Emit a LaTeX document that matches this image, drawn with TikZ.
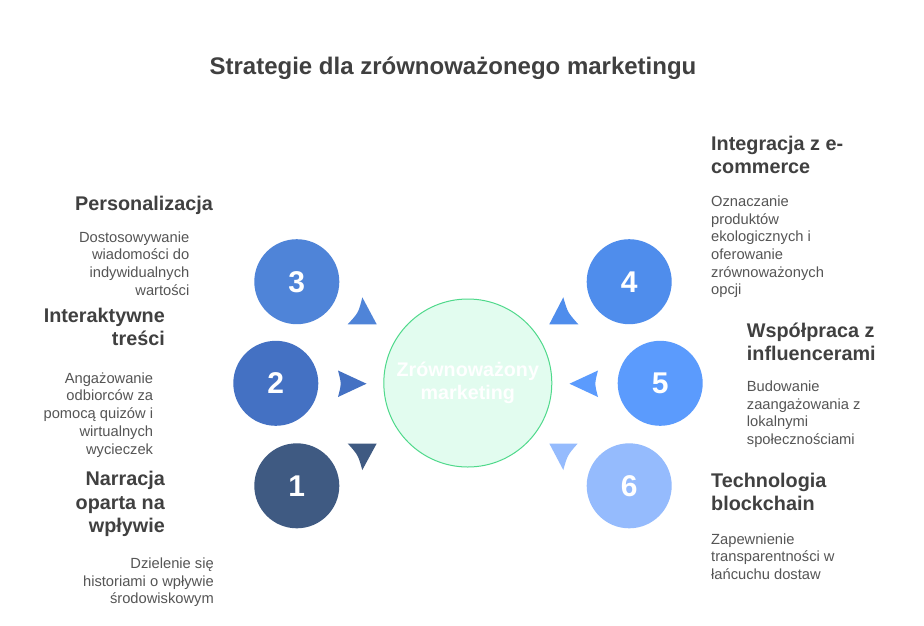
\documentclass[tikz,border=0pt]{standalone}
\usepackage{fontspec}
\setmainfont{Liberation Sans}
\definecolor{cOne}{HTML}{3F5A82}
\definecolor{cTwo}{HTML}{4471C3}
\definecolor{cThree}{HTML}{4F84D8}
\definecolor{cFour}{HTML}{4F8DEC}
\definecolor{cFive}{HTML}{5B9BFD}
\definecolor{cSix}{HTML}{95BBFD}
\definecolor{midfill}{HTML}{E2FCEF}
\definecolor{midline}{HTML}{4FD98B}
\definecolor{headtxt}{HTML}{404040}
\definecolor{bodytxt}{HTML}{555555}
\begin{document}
\begin{tikzpicture}[x=1pt,y=-1pt,
  numcircle/.style={circle, minimum size=85pt, inner sep=0pt, text=white,
    font=\fontsize{30}{35}\selectfont\bfseries},
  headtext/.style={inner sep=0pt, text=headtxt,
    font=\fontsize{19.8}{23.6}\selectfont\bfseries},
  bodytext/.style={inner sep=0pt, text=bodytxt,
    font=\fontsize{14.7}{17.7}\selectfont},
  tri/.style={draw=none}]
\useasboundingbox[fill=white] (0,0) rectangle (924,625);

% title
\node[anchor=base, inner sep=0pt, text=headtxt,
  font=\fontsize{24}{29}\selectfont\bfseries] (title) at (453,74)
  {Strategie dla zrównoważonego marketingu};

% central circle
\node[circle, minimum size=168pt, inner sep=0pt, fill=midfill, draw=midline,
  line width=1pt, text=white, align=center,
  font=\fontsize{19.7}{23.6}\selectfont\bfseries] (center) at (467.8,383)
  {Zrównoważony\\marketing};

% triangles
\fill[cThree] (347.7,324.3) .. controls (358.5,312.7) .. (362.3,297.3) -- (376.7,324.3) -- cycle;
\fill[cFour] (549.3,324.3) -- (563.3,297.3) .. controls (567.7,312.5) .. (578.3,324.3) -- cycle;
\fill[cOne] (347.7,443.5) .. controls (358.1,455) .. (362.3,470) -- (376.7,443.5) -- cycle;
\fill[cSix] (549.3,443.5) -- (563.3,470) .. controls (567.4,455.3) .. (577.7,443.5) -- cycle;
\fill[cTwo] (338,370.5) .. controls (341.5,383.7) .. (338,397) -- (366.5,383.7) -- cycle;
\fill[cFive] (598,370.5) .. controls (594.5,383.7) .. (598,397) -- (569.5,383.7) -- cycle;

% number circles
\node[numcircle, fill=cThree] (n3) at (296.8,281.7) {3};
\node[numcircle, fill=cTwo]   (n2) at (275.8,383.3) {2};
\node[numcircle, fill=cOne]   (n1) at (296.8,485.8) {1};
\node[numcircle, fill=cFour]  (n4) at (629.2,281.7) {4};
\node[numcircle, fill=cFive]  (n5) at (660.2,383.3) {5};
\node[numcircle, fill=cSix]   (n6) at (629.2,485.8) {6};

% left texts
\node[headtext, anchor=north east, align=right] (h3) at (213,193.5)
  {\strut Personalizacja};
\node[bodytext, anchor=north east, align=right] (b3) at (189.5,229.6)
  {\strut Dostosowywanie\\wiadomości do\\indywidualnych\\wartości};
\node[headtext, anchor=north east, align=right] (h2) at (165,305.5)
  {\strut Interaktywne\\treści};
\node[bodytext, anchor=north east, align=right] (b2) at (153.3,370.6)
  {\strut Angażowanie\\odbiorców za\\pomocą quizów i\\wirtualnych\\wycieczek};
\node[headtext, anchor=north east, align=right] (h1) at (165,469)
  {\strut Narracja\\oparta na\\wpływie};
\node[bodytext, anchor=north east, align=right] (b1) at (214,555.8)
  {\strut Dzielenie się\\historiami o wpływie\\środowiskowym};

% right texts
\node[headtext, anchor=north west, align=left] (h4) at (711,133.5)
  {\strut Integracja z e-\\commerce};
\node[bodytext, anchor=north west, align=left] (b4) at (711,193.8)
  {\strut Oznaczanie\\produktów\\ekologicznych i\\oferowanie\\zrównoważonych\\opcji};
\node[headtext, anchor=north west, align=left] (h5) at (746.7,320.5)
  {\strut Współpraca z\\influencerami};
\node[bodytext, anchor=north west, align=left] (b5) at (746.7,378.8)
  {\strut Budowanie\\zaangażowania z\\lokalnymi\\społecznościami};
\node[headtext, anchor=north west, align=left] (h6) at (711,470.5)
  {\strut Technologia\\blockchain};
\node[bodytext, anchor=north west, align=left] (b6) at (711,531.5)
  {\strut Zapewnienie\\transparentności w\\łańcuchu dostaw};
\end{tikzpicture}
\end{document}
